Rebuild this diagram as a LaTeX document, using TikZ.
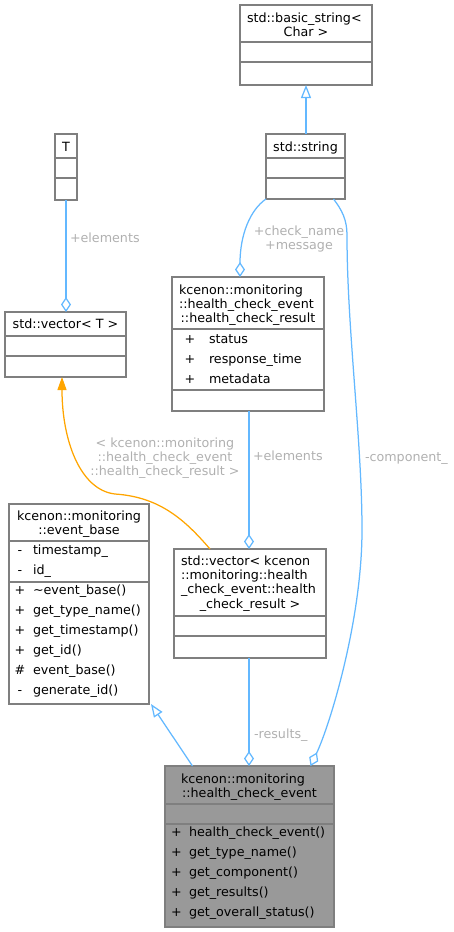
\documentclass[tikz,border=0pt]{standalone}
\usepackage{fontspec}
\setmainfont{DejaVu Sans}
\usetikzlibrary{arrows.meta}
\definecolor{edgeblue}{HTML}{63B8FF}
\definecolor{boxgray}{HTML}{7F7F7F}
\definecolor{lblgray}{HTML}{B0B0B0}
\definecolor{hcefill}{HTML}{999999}
\definecolor{edgeorange}{HTML}{FFA500}
\newcommand\fs{\fontsize{12.7}{14.3}\selectfont}
\newcommand\tl[4]{\node[tx,anchor=base west] (#1) at (#2,#3) {#4};}
\newcommand\tc[4]{\node[tx,anchor=base] (#1) at (#2,#3) {#4};}
\newcommand\lb[4]{\node[lbl,anchor=base west] (#1) at (#2,#3) {#4};}
\newcommand\lc[4]{\node[lbl,anchor=base] (#1) at (#2,#3) {#4};}
\tikzset{
  box/.style={draw=boxgray, line width=1.1pt, fill=white, inner sep=0pt, outer sep=0pt},
  divider/.style={draw=boxgray, line width=1.1pt},
  tx/.style={inner sep=0pt, outer sep=0pt, font=\fs, text=black},
  lbl/.style={inner sep=0pt, outer sep=0pt, font=\fs, text=lblgray},
  edge/.style={draw=edgeblue, line width=1.25pt},
  oedge/.style={draw=edgeorange, line width=1.25pt},
  agg/.style={{Diamond[open,length=15pt,width=10pt]}-},
  inh/.style={-{Triangle[open,length=13pt,width=10pt]}},
  tmpl/.style={-{Triangle[length=13pt,width=9pt]}},
}
\begin{document}
\begin{tikzpicture}[x=1pt,y=-1pt]
\useasboundingbox (0,0) rectangle (454,932);
% std::basic_string< Char >
\node[box, minimum width=132, minimum height=80] (bs) at (306,45) {};
\draw[divider] (bs.west |- 0,42) -- (bs.east |- 0,42);
\draw[divider] (bs.west |- 0,62) -- (bs.east |- 0,62);
\tl{bs1}{247}{22.5}{std::basic\_string<}
\tc{bs2}{306}{36.5}{Char >}
% std::string
\node[box, minimum width=79, minimum height=65] (str) at (305.5,166.5) {};
\draw[divider] (str.west |- 0,158) -- (str.east |- 0,158);
\draw[divider] (str.west |- 0,178) -- (str.east |- 0,178);
\tc{str1}{305.5}{151}{std::string}
% T
\node[box, minimum width=22, minimum height=66] (T) at (66,167) {};
\draw[divider] (T.west |- 0,158) -- (T.east |- 0,158);
\draw[divider] (T.west |- 0,178) -- (T.east |- 0,178);
\tc{T1}{66}{151}{T}
% std::vector< T >
\node[box, minimum width=121, minimum height=65] (vT) at (65.5,344.5) {};
\draw[divider] (vT.west |- 0,336) -- (vT.east |- 0,336);
\draw[divider] (vT.west |- 0,356) -- (vT.east |- 0,356);
\tc{vT1}{65.5}{328.5}{std::vector< T >}
% health_check_result
\node[box, minimum width=152, minimum height=134] (hcr) at (248,344) {};
\draw[divider] (hcr.west |- 0,329) -- (hcr.east |- 0,329);
\draw[divider] (hcr.west |- 0,390) -- (hcr.east |- 0,390);
\tl{hcr1}{179}{294.5}{kcenon::monitoring}
\tl{hcr2}{179}{308.5}{::health\_check\_event}
\tc{hcr3}{248}{322.5}{::health\_check\_result}
\tc{hcrs1}{190}{343.5}{+}\tl{hcrm1}{209}{343.5}{status}
\tc{hcrs2}{190}{363.5}{+}\tl{hcrm2}{209}{363.5}{response\_time}
\tc{hcrs3}{190}{383.5}{+}\tl{hcrm3}{209}{383.5}{metadata}
% event_base
\node[box, minimum width=140, minimum height=200] (eb) at (79,604) {};
\draw[divider] (eb.west |- 0,541) -- (eb.east |- 0,541);
\draw[divider] (eb.west |- 0,582) -- (eb.east |- 0,582);
\tl{eb1}{17}{520.5}{kcenon::monitoring}
\tc{eb2}{79}{534.5}{::event\_base}
\tc{ebs1}{20}{554.5}{-}\tl{ebm1}{33}{554.5}{timestamp\_}
\tc{ebs2}{20}{574.5}{-}\tl{ebm2}{33}{574.5}{id\_}
\tc{ebs3}{20}{594.5}{+}\tl{ebm3}{33}{594.5}{\textasciitilde event\_base()}
\tc{ebs4}{20}{614.5}{+}\tl{ebm4}{33}{614.5}{get\_type\_name()}
\tc{ebs5}{20}{634.5}{+}\tl{ebm5}{33}{634.5}{get\_timestamp()}
\tc{ebs6}{20}{654.5}{+}\tl{ebm6}{33}{654.5}{get\_id()}
\tc{ebs7}{20}{674.5}{\#}\tl{ebm7}{33}{674.5}{event\_base()}
\tc{ebs8}{20}{694.5}{-}\tl{ebm8}{33}{694.5}{generate\_id()}
% std::vector< kcenon... >
\node[box, minimum width=152, minimum height=109] (vK) at (250,603.5) {};
\draw[divider] (vK.west |- 0,616) -- (vK.east |- 0,616);
\draw[divider] (vK.west |- 0,636) -- (vK.east |- 0,636);
\tl{vK1}{181}{565.5}{std::vector< kcenon}
\tl{vK2}{181}{579.5}{::monitoring::health}
\tl{vK3}{181}{593.5}{\_check\_event::health}
\tc{vK4}{250}{608}{\_check\_result >}
% health_check_event
\node[box, fill=hcefill, minimum width=169, minimum height=161] (hce) at (249.5,846.5) {};
\draw[divider] (hce.west |- 0,804) -- (hce.east |- 0,804);
\draw[divider] (hce.west |- 0,824) -- (hce.east |- 0,824);
\tl{hce1}{181}{783.5}{kcenon::monitoring}
\tc{hce2}{249.5}{797.5}{::health\_check\_event}
\tc{hces1}{176.5}{836.5}{+}\tl{hcem1}{189}{836.5}{health\_check\_event()}
\tc{hces2}{176.5}{856.5}{+}\tl{hcem2}{189}{856.5}{get\_type\_name()}
\tc{hces3}{176.5}{876.5}{+}\tl{hcem3}{189}{876.5}{get\_component()}
\tc{hces4}{176.5}{896.5}{+}\tl{hcem4}{189}{896.5}{get\_results()}
\tc{hces5}{176.5}{916.5}{+}\tl{hcem5}{189}{916.5}{get\_overall\_status()}
% edges
\draw[edge,inh] ([xshift=0.5pt]str.north) -- ([xshift=0.5pt]str.north |- bs.south);
\draw[edge,agg] ([xshift=0.5pt]vT.north) -- ([xshift=0.5pt]vT.north |- T.south);
\draw[edge,agg] ([xshift=-8pt]hcr.north) .. controls (240,235) and (250,210) .. (str.south west);
\draw[edge,agg] ([xshift=61pt]hce.north) .. controls (330,725) and (362,620) .. (362,530)
   .. controls (362,440) and (347,330) .. (347,235) .. controls (347,220) and (342,210) .. ([xshift=28pt]str.south);
\draw[edge,agg] ([xshift=-1pt]vK.north) -- ([xshift=-1pt]vK.north |- hcr.south);
\draw[edge,agg] ([xshift=-0.5pt]hce.north) -- ([xshift=-0.5pt]hce.north |- vK.south);
\draw[edge,inh] ([xshift=-57pt]hce.north) -- ([xshift=2pt]eb.south east);
\draw[oedge,tmpl] ([xshift=-40pt]vK.north) .. controls (185,520) and (160,497) .. (115,494)
   .. controls (80,490) and (62,440) .. ([xshift=-3.5pt]vT.south);
% edge labels
\lb{l1}{70}{242}{+elements}
\lc{l2a}{299}{235.5}{+check\_name}
\lc{l2b}{299}{249.5}{+message}
\lc{l3a}{165}{447.5}{< kcenon::monitoring}
\lc{l3b}{165}{461.5}{::health\_check\_event}
\lc{l3c}{165}{475.5}{::health\_check\_result >}
\lb{l4}{253}{460.5}{+elements}
\lb{l5}{365}{461.5}{-component\_}
\lb{l6}{254}{738.5}{-results\_}
\end{tikzpicture}
\end{document}
